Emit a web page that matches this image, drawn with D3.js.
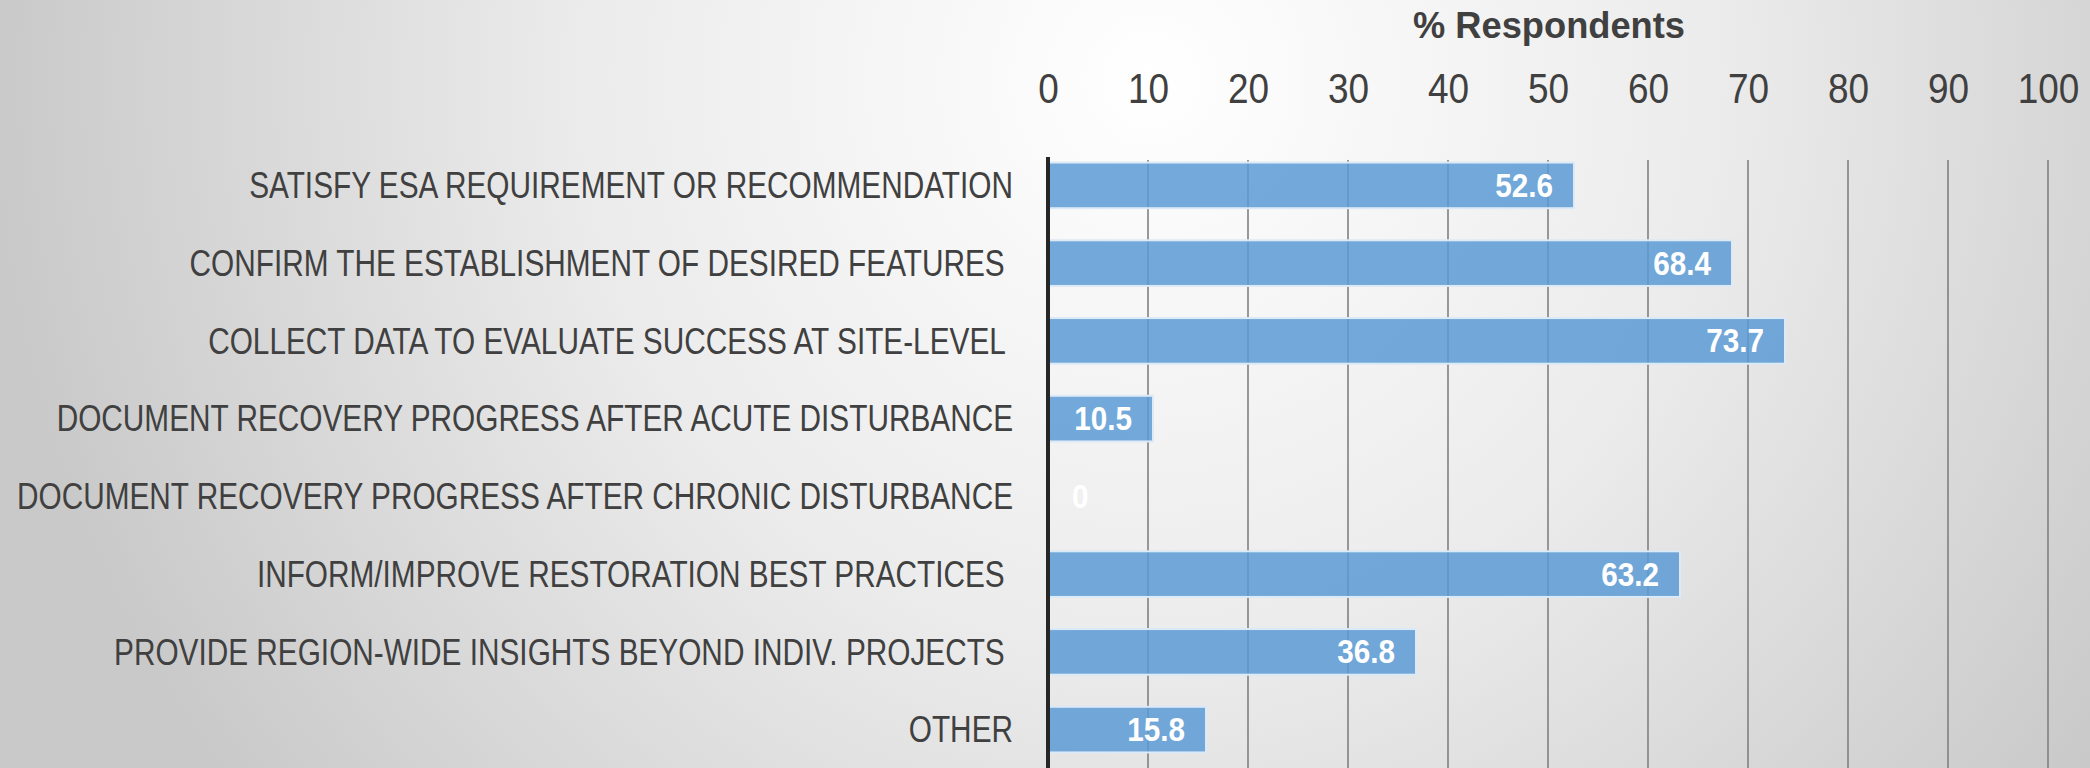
<!DOCTYPE html>
<html>
<head>
<meta charset="utf-8">
<script src="https://cdn.jsdelivr.net/npm/d3@7"></script>
<style>
  html, body { margin: 0; padding: 0; overflow: hidden; }
  svg text { white-space: pre; }
</style>
</head>
<body>
<svg id="chart" width="2090" height="768"></svg>
<script>
// chart data
var categories = [
    "SATISFY ESA REQUIREMENT OR RECOMMENDATION",
    "CONFIRM THE ESTABLISHMENT OF DESIRED FEATURES ",
    "COLLECT DATA TO EVALUATE SUCCESS AT SITE-LEVEL ",
    "DOCUMENT RECOVERY PROGRESS AFTER ACUTE DISTURBANCE",
    "DOCUMENT RECOVERY PROGRESS AFTER CHRONIC DISTURBANCE",
    "INFORM/IMPROVE RESTORATION BEST PRACTICES ",
    "PROVIDE REGION-WIDE INSIGHTS BEYOND INDIV. PROJECTS ",
    "OTHER"
];
var values = [52.6, 68.4, 73.7, 10.5, 0, 63.2, 36.8, 15.8];
var xTicks = [0, 10, 20, 30, 40, 50, 60, 70, 80, 90, 100];
var axisTitle = "% Respondents";

function drawChart() {
    let svg = d3.select("#chart");
    let width = 2090, height = 768;
    let font = "'Liberation Sans', Arial, sans-serif";

    // background gradient
    let defs = svg.append("defs");
    let grad = defs.append("radialGradient")
        .attr("id", "bg")
        .attr("gradientUnits", "userSpaceOnUse")
        .attr("cx", 1150).attr("cy", 80).attr("r", 1160);
    grad.append("stop").attr("offset", "0").attr("stop-color", "#ffffff");
    grad.append("stop").attr("offset", "0.5").attr("stop-color", "#ebebeb");
    grad.append("stop").attr("offset", "1").attr("stop-color", "#c9c9c9");
    svg.append("rect").attr("width", width).attr("height", height).attr("fill", "url(#bg)");

    let x = d3.scaleLinear().domain([0, 100]).range([1048, 2048]);
    let y = d3.scaleBand().domain(categories).range([146, 768])
        .paddingInner(0.4).paddingOuter(0.2);

    // vertical gridlines
    svg.append("g").attr("class", "grid")
        .selectAll("line")
        .data(xTicks.filter(function (t) { return t > 0; }))
        .enter().append("line")
        .attr("x1", function (d) { return x(d); })
        .attr("x2", function (d) { return x(d); })
        .attr("y1", 160).attr("y2", height)
        .style("stroke", "#808080")
        .style("stroke-width", 1.6);

    // bars
    svg.append("g").attr("class", "bars")
        .selectAll("rect")
        .data(values)
        .enter().append("rect")
        .attr("x", x(0))
        .attr("y", function (d, i) { return y(categories[i]) + 1; })
        .attr("width", function (d) { return x(d) - x(0); })
        .attr("height", y.bandwidth() - 1)
        .style("fill", "#5b9bd5")
        .style("fill-opacity", 0.85)
        .style("stroke", function (d) { return d > 0 ? "#dce9f6" : "none"; })
        .style("stroke-width", 2);

    // zero axis line
    svg.append("line")
        .attr("x1", x(0)).attr("x2", x(0))
        .attr("y1", 157).attr("y2", height)
        .style("stroke", "#262626")
        .style("stroke-width", 4);

    // x tick labels on top
    let xAxis = d3.axisTop(x).tickValues(xTicks).tickSize(0).tickPadding(0);
    let gx = svg.append("g").attr("transform", "translate(0,103)").call(xAxis);
    gx.select(".domain").remove();
    gx.selectAll("text")
        .attr("y", 0).attr("dy", null)
        .attr("transform", "scale(0.88,1)")
        .style("font-family", font)
        .style("font-size", "42px")
        .style("fill", "#404040");

    // axis title
    svg.append("text")
        .attr("transform", "translate(1549,38) scale(0.98,1)")
        .attr("text-anchor", "middle")
        .style("font-family", font)
        .style("font-weight", "bold")
        .style("font-size", "37px")
        .style("fill", "#404040")
        .text(axisTitle);

    // category labels
    svg.append("g").attr("class", "labels")
        .selectAll("text")
        .data(categories)
        .enter().append("text")
        .attr("xml:space", "preserve")
        .attr("transform", function (d) {
            return "translate(1013," + (y(d) + y.bandwidth() / 2) + ") scale(0.805,1)";
        })
        .attr("dy", "0.36em")
        .attr("text-anchor", "end")
        .style("font-family", font)
        .style("font-size", "37px")
        .style("fill", "#404040")
        .text(function (d) { return d; });

    // value labels (inside end)
    svg.append("g").attr("class", "values")
        .selectAll("text")
        .data(values)
        .enter().append("text")
        .attr("transform", function (d, i) {
            let cy = y(categories[i]) + y.bandwidth() / 2;
            let px = d > 5 ? x(d) - 21 : x(0) + 24;
            return "translate(" + px + "," + cy + ") scale(0.9,1)";
        })
        .attr("dy", "0.36em")
        .attr("text-anchor", function (d) { return d > 5 ? "end" : "start"; })
        .style("font-family", font)
        .style("font-weight", "bold")
        .style("font-size", "33px")
        .style("fill", "#ffffff")
        .text(function (d) { return d; });
}

drawChart();
</script>
</body>
</html>
